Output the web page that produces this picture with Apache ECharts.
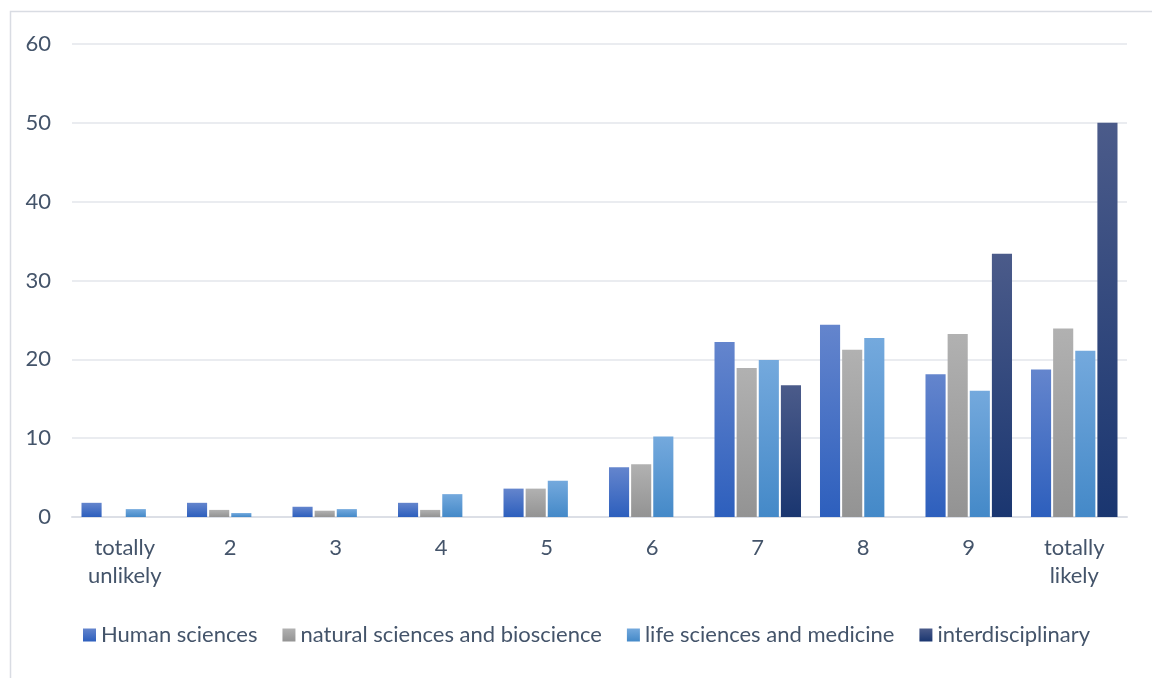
<!DOCTYPE html>
<html>
<head>
<meta charset="utf-8">
<script src="https://cdn.jsdelivr.net/npm/echarts@6/dist/echarts.min.js"></script>
<style>html,body{margin:0;padding:0;background:#fff}#c{width:1152px;height:678px}</style>
</head>
<body>
<div id="c"></div>
<script>
const categories = ['totally\nunlikely', '2', '3', '4', '5', '6', '7', '8', '9', 'totally\nlikely'];
const seriesNames = ['Human sciences', 'natural sciences and bioscience', 'life sciences and medicine', 'interdisciplinary'];
const humanSciences = [1.8, 1.8, 1.3, 1.8, 3.6, 6.3, 22.2, 24.4, 18.1, 18.7];
const naturalSciences = [0, 0.9, 0.8, 0.9, 3.6, 6.7, 18.9, 21.2, 23.2, 23.9];
const lifeSciences = [1.0, 0.5, 1.0, 2.9, 4.6, 10.2, 19.9, 22.7, 16.0, 21.1];
const interdisciplinary = [0, 0, 0, 0, 0, 0, 16.7, 0, 33.4, 50.0];
const yTicks = [0, 10, 20, 30, 40, 50, 60];

const grads = [
  ['#6485cd', '#2d5fbd'],
  ['#b1b1b1', '#939393'],
  ['#74a9dd', '#4489c8'],
  ['#4b5b8a', '#1a3670']
];
function grad(c) {
  return new echarts.graphic.LinearGradient(0, 0, 0, 1, [{offset: 0, color: c[0]}, {offset: 1, color: c[1]}]);
}
const values = [humanSciences, naturalSciences, lifeSciences, interdisciplinary];
const font = 'Lato, "Open Sans", sans-serif';
const txt = '#44546a';

const chart = echarts.init(document.getElementById('c'), null, {renderer: 'canvas'});
chart.setOption({
  animation: false,
  graphic: [{
    type: 'rect', left: 8, top: 9, z: -1,
    shape: {x: 0, y: 0, width: 1200, height: 720},
    style: {fill: 'none', stroke: '#d9dce3', lineWidth: 1.5}
  }],
  grid: {left: 72, right: 25, top: 44, bottom: 161, containLabel: false},
  legend: {
    bottom: 27, left: 78,
    itemWidth: 13, itemHeight: 13, itemGap: 25,
    icon: 'rect',
    textStyle: {fontFamily: font, fontSize: 22, color: txt},
    data: seriesNames
  },
  xAxis: {
    type: 'category',
    data: categories,
    axisLine: {lineStyle: {color: '#dcdfe6', width: 2}},
    axisTick: {show: false},
    axisLabel: {fontFamily: font, fontSize: 22, color: txt, lineHeight: 28, margin: 17}
  },
  yAxis: {
    type: 'value', min: 0, max: 60, interval: 10,
    axisLine: {show: false},
    axisTick: {show: false},
    splitLine: {lineStyle: {color: '#e3e6eb', width: 1.5}},
    axisLabel: {fontFamily: font, fontSize: 22, color: txt, margin: 21,
      formatter: v => yTicks.includes(v) ? String(v) : ''}
  },
  series: seriesNames.map((n, i) => ({
    name: n,
    type: 'bar',
    data: values[i],
    barGap: '10%',
    barCategoryGap: '18%',
    itemStyle: {color: grad(grads[i])}
  }))
});
</script>
</body>
</html>
